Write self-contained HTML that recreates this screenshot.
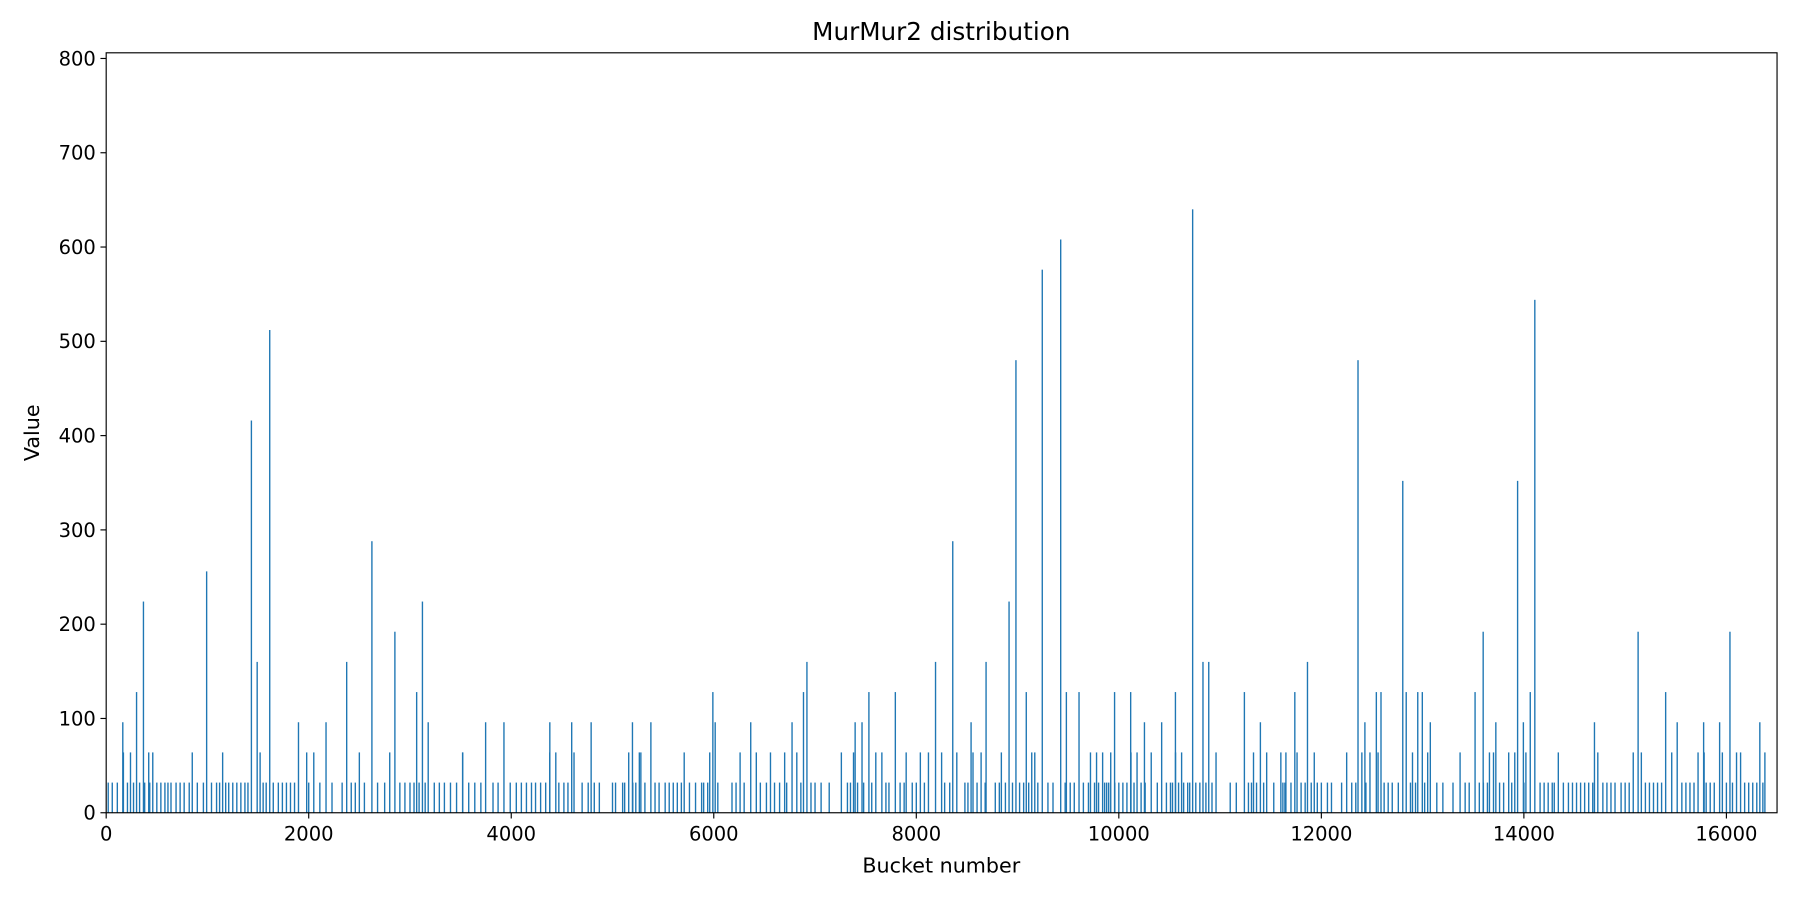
<!DOCTYPE html>
<html><head><meta charset="utf-8">
<style>
html,body{margin:0;padding:0;background:#fff;}
svg text{font-family:"DejaVu Sans","Liberation Sans",sans-serif;fill:#000;}
</style></head>
<body>
<svg id="chart" width="1800" height="900" viewBox="0 0 1568 784" preserveAspectRatio="none" xmlns="http://www.w3.org/2000/svg">
<rect width="1568" height="784" fill="#fff"/>
<text x="820" y="35" font-size="21.5" text-anchor="middle">MurMur2 distribution</text>
<g id="bars"></g>
<g id="axes"></g>
<text x="820" y="760" font-size="18" text-anchor="middle">Bucket number</text>
<text transform="translate(34,377) rotate(-90)" font-size="18" text-anchor="middle">Value</text>
</svg>
<script>
const xTicks = [0,2000,4000,6000,8000,10000,12000,14000,16000];
const yTicks = [0,100,200,300,400,500,600,700,800];
const spikeBuckets = [164,300,368,992,1434,1491,1615,1899,2171,2375,2624,2851,3066,3123,3180,3520,3747,3928,4381,4597,4789,5197,5265,5379,5708,5991,6014,6365,6773,6920,6886,7396,7464,7532,7793,8190,8360,8541,8689,8916,8984,9086,9244,9426,9482,9607,9958,10117,10253,10423,10559,10729,10831,10888,11240,11398,11738,11863,12362,12430,12543,12589,12804,12838,12952,12997,13076,13518,13598,13723,13938,13995,14063,14108,14697,15128,15400,15514,15775,15933,16035,16330];
const spikeValues = [96,128,224,256,416,160,512,96,96,160,288,192,128,224,96,64,96,96,96,96,96,96,64,96,64,128,96,96,96,160,128,96,96,128,128,160,288,96,160,224,480,128,576,608,128,128,128,128,96,96,128,640,160,160,128,96,128,160,480,96,128,128,352,128,128,128,96,128,192,96,352,96,128,544,96,192,128,96,96,96,192,96];
const buckets64 = [170,240,420,460,850,1150,1520,1980,2050,2500,2800,3520,4380,4440,4620,5160,5280,5960,6260,6420,6560,6700,6820,7260,7380,7600,7660,7900,8040,8120,8250,8400,8560,8640,8840,9140,9170,9720,9780,9840,9920,10120,10180,10320,10560,10620,10960,11330,11460,11600,11650,11760,11930,12250,12400,12480,12560,12900,13050,13370,13660,13700,13850,13910,14020,14340,14730,15080,15160,15460,15720,15780,15960,16100,16140,16380];
const buckets32 = [20,60,110,210,270,330,380,430,500,540,580,610,640,690,730,770,820,900,960,1040,1090,1120,1180,1210,1250,1290,1330,1370,1400,1550,1580,1650,1700,1740,1780,1820,1860,2000,2110,2230,2330,2420,2460,2550,2680,2750,2900,2950,3000,3040,3090,3150,3240,3290,3340,3400,3460,3580,3640,3700,3820,3870,3990,4050,4100,4150,4200,4240,4290,4340,4470,4520,4560,4700,4760,4820,4870,5000,5030,5100,5120,5200,5230,5320,5420,5460,5520,5560,5600,5640,5680,5760,5820,5880,5900,5940,6040,6180,6220,6300,6460,6520,6600,6650,6720,6860,6960,7000,7060,7140,7320,7350,7420,7480,7560,7700,7730,7840,7880,7960,8000,8080,8280,8330,8480,8510,8600,8680,8780,8820,8880,8950,9020,9060,9110,9200,9300,9350,9470,9520,9560,9650,9700,9760,9800,9860,9880,9900,9960,10000,10040,10080,10150,10220,10260,10380,10470,10510,10530,10590,10640,10680,10700,10760,10800,10860,10920,11100,11160,11280,11310,11360,11430,11530,11620,11640,11700,11800,11840,11900,11960,12000,12060,12100,12200,12300,12340,12440,12620,12660,12700,12760,12880,12930,13020,13140,13200,13300,13420,13460,13560,13600,13640,13760,13800,13880,14000,14160,14200,14240,14280,14300,14390,14440,14480,14520,14560,14600,14640,14680,14780,14820,14860,14900,14960,15000,15040,15200,15240,15280,15320,15360,15560,15600,15640,15680,15800,15840,15880,16000,16060,16180,16220,16260,16300,16360];

const L=92.5,R=1548,T=46,B=708,XMAX=16500,YMAX=806;
const sx=v=>L+v*(R-L)/XMAX, sy=v=>B-v*(B-T)/YMAX;
const NS="http://www.w3.org/2000/svg";
const bars=document.getElementById('bars'), axes=document.getElementById('axes');
function bar(b,v,name){
  const r=document.createElementNS(NS,'rect');
  r.setAttribute('x',sx(b)-0.6);r.setAttribute('y',sy(v));
  r.setAttribute('width',1.2);r.setAttribute('height',B-sy(v));
  r.setAttribute('fill','#1f77b4');
  
  
  bars.appendChild(r);
}
buckets32.forEach(b=>bar(b,32,'bar-value-32'));
buckets64.forEach(b=>bar(b,64,'bar-value-64'));
spikeBuckets.forEach((b,i)=>bar(b,spikeValues[i],'bar-spike'));
const frame=document.createElementNS(NS,'rect');
frame.setAttribute('x',L);frame.setAttribute('y',T);frame.setAttribute('width',R-L);frame.setAttribute('height',B-T);
frame.setAttribute('fill','none');frame.setAttribute('stroke','#000');frame.setAttribute('stroke-width','1');


axes.appendChild(frame);
xTicks.forEach(t=>{
  const l=document.createElementNS(NS,'line');
  l.setAttribute('x1',sx(t));l.setAttribute('x2',sx(t));l.setAttribute('y1',B);l.setAttribute('y2',B+5);l.setAttribute('stroke','#000');
  
  
  axes.appendChild(l);
  const tx=document.createElementNS(NS,'text');
  tx.setAttribute('x',sx(t));tx.setAttribute('y',B+24);tx.setAttribute('font-size','17');tx.setAttribute('text-anchor','middle');
  tx.textContent=t;
  
  
  axes.appendChild(tx);
});
yTicks.forEach(t=>{
  const l=document.createElementNS(NS,'line');
  l.setAttribute('x1',L-5);l.setAttribute('x2',L);l.setAttribute('y1',sy(t));l.setAttribute('y2',sy(t));l.setAttribute('stroke','#000');
  
  
  axes.appendChild(l);
  const tx=document.createElementNS(NS,'text');
  tx.setAttribute('x',L-9);tx.setAttribute('y',sy(t)+6);tx.setAttribute('font-size','17');tx.setAttribute('text-anchor','end');
  tx.textContent=t;
  
  
  axes.appendChild(tx);
});
</script>
</body></html>
